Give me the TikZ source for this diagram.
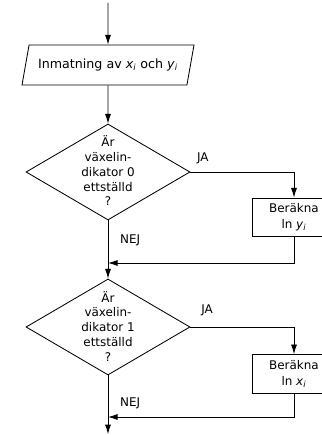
\documentclass[tikz,border=0pt]{standalone}
\usepackage{fontspec}
\setmainfont{DejaVu Sans}
\usepackage{tikz}
\usetikzlibrary{shapes.geometric}
\usetikzlibrary{arrows.meta}
\newcommand{\xsub}{\textit{x}\textsubscript{\textit{i}}}
\newcommand{\ysub}{\textit{y}\textsubscript{\textit{i}}}
\tikzset{
    inout/.style = {trapezium, trapezium left angle=60, trapezium right angle=120, trapezium stretches body, draw=black, minimum width=4.3cm, minimum height=1cm, inner sep=0pt, font=\fontsize{9}{11}\selectfont},
    decision/.style = {diamond, draw=black, minimum width=4.1cm, minimum height=2.4cm, inner sep=0pt},
    dtext/.style = {align=center, inner sep=0pt, font=\fontsize{8.5}{10.5}\selectfont},
    process/.style = {rectangle, draw=black, align=center, minimum width=2.1cm, minimum height=0.97cm, inner sep=1pt, font=\fontsize{8.5}{11}\selectfont},
}

\begin{document}
\begin{tikzpicture}[
	line width=0.6pt,
	font=\fontsize{8.5}{10}\selectfont
]
\tikzset{
    edgea/.style = {-{Latex[length=2.4mm,width=1.5mm]}},
    edgen/.style = {-}
}
\useasboundingbox (0,0) rectangle (8.05,10.875);
\coordinate (start) at (2.7,10.8);
\node[inout] at (2.7,9.25) (inp) {Inmatning av \xsub{} och \ysub};
\node[decision] at (2.7,6.575) (d1) {};
\node[dtext] at (2.7,6.6) (t1) {Är\\växelin-\\dikator 0\\ettställd\\?};
\node[process] at (7.35,5.44) (b1) {Beräkna\\ln \ysub};
\coordinate (m1) at (2.7,4.3);
\node[decision] at (2.7,2.7) (d2) {};
\node[dtext] at (2.7,2.72) (t2) {Är\\växelin-\\dikator 1\\ettställd\\?};
\node[process] at (7.35,1.525) (b2) {Beräkna\\ln \xsub};
\coordinate (m2) at (2.7,0.45);
\coordinate (end) at (2.7,0.02);
%
\draw[edgea] (start) -- (inp);
\draw[edgea] (inp) -- (d1);
\draw[edgea] (d1.east) -| node[pos=0.06, above=2pt] {JA} (b1.north);
\draw[edgea] (b1.south) |- (m1);
\draw[edgea] (d1.south) -- node[pos=0.35, right=5pt] {NEJ} (d2.north);
%
\draw[edgea] (d2.east) -| node[pos=0.08, above=4pt] {JA} (b2.north);
\draw[edgea] (b2.south) |- (m2);
\draw[edgea] (d2.south) -- node[pos=0.47, right=5pt] {NEJ} (end);
\end{tikzpicture}
\end{document}
